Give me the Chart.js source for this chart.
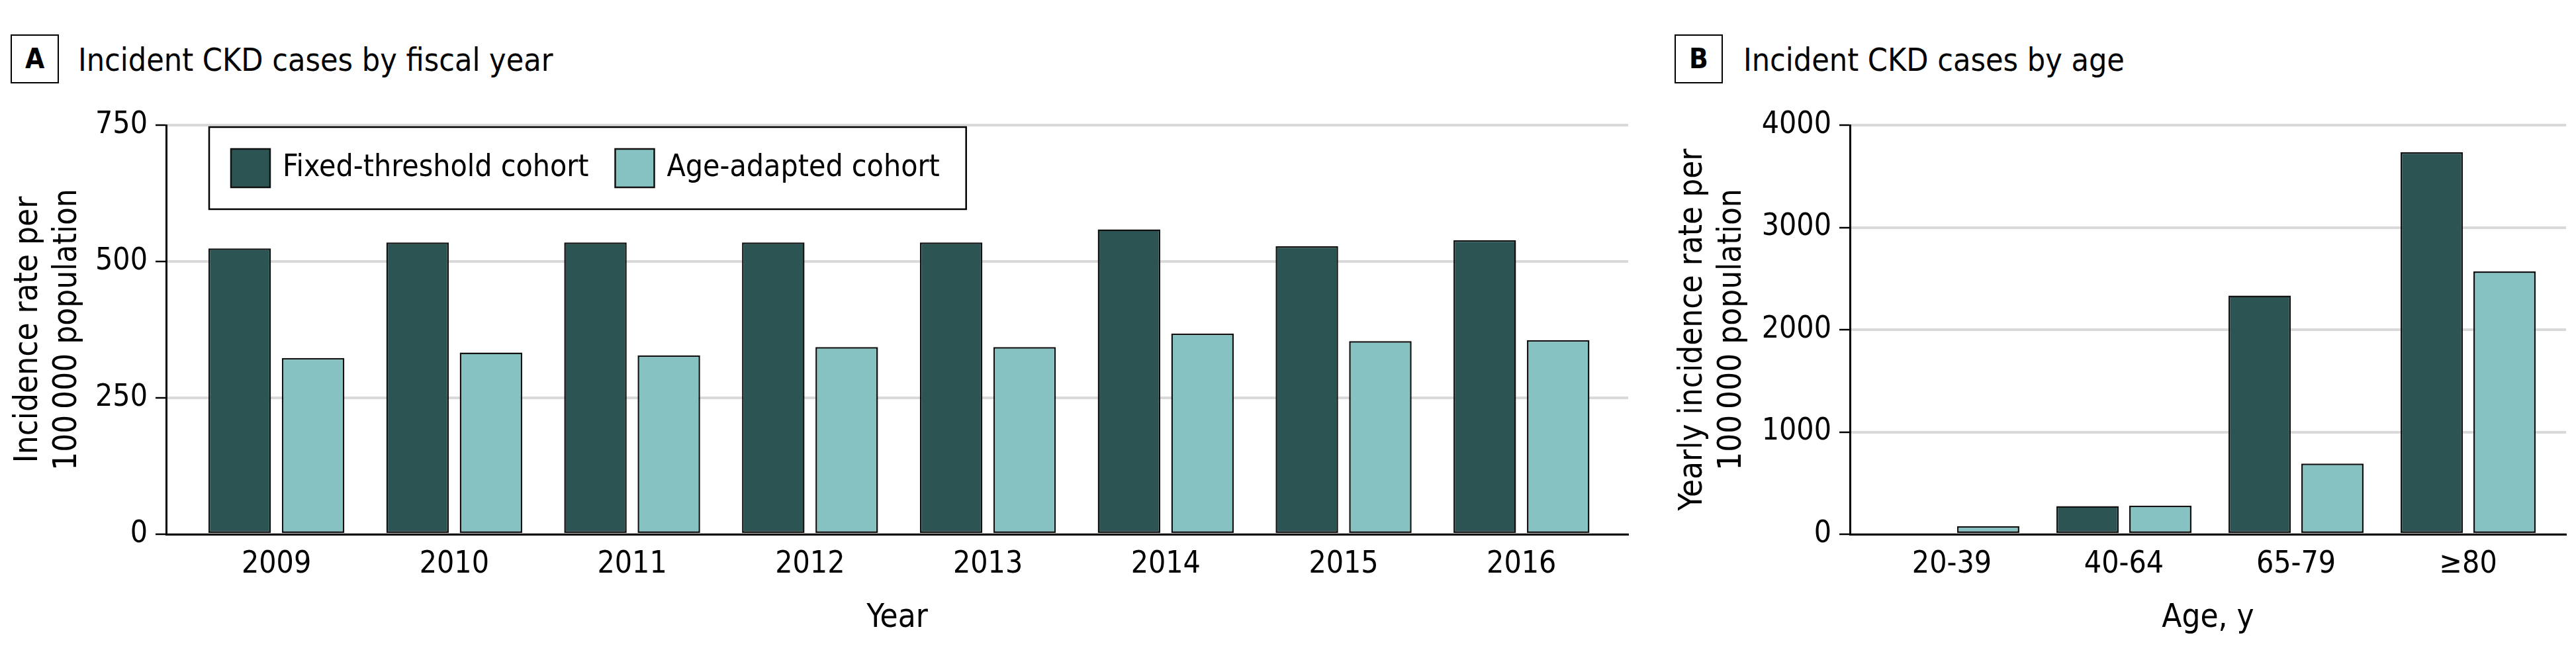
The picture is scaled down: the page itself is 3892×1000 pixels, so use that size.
<!DOCTYPE html>
<html>
<head>
<meta charset="utf-8">
<script src="https://cdn.jsdelivr.net/npm/chart.js@4/dist/chart.umd.min.js"></script>
<style>
  html, body { margin:0; padding:0; background:#fff; }
  body { width:3892px; height:1000px; position:relative; overflow:hidden;
         font-family:'DejaVu Sans Condensed','DejaVu Sans',sans-serif; color:#000; }
  .tag { position:absolute; top:52px; width:73px; height:74px; box-sizing:border-box;
         border:2.5px solid #000; display:flex; align-items:center; justify-content:center;
         font-weight:bold; font-size:42px; line-height:1; }
  .ttl { position:absolute; top:66px; font-size:48px; line-height:49px; white-space:nowrap; }
  canvas { position:absolute; top:0; }
</style>
</head>
<body>
<div class="tag" style="left:16px">A</div>
<div class="ttl" style="left:118px">Incident CKD cases by fiscal year</div>
<div class="tag" style="left:2530px">B</div>
<div class="ttl" style="left:2634px">Incident CKD cases by age</div>
<canvas id="chartA" width="2500" height="1000" style="left:0;width:2500px;height:1000px"></canvas>
<canvas id="chartB" width="1392" height="1000" style="left:2500px;width:1392px;height:1000px"></canvas>
<script>
// ---- data ----
const seriesNames = ['Fixed-threshold cohort', 'Age-adapted cohort'];
const years = ['2009', '2010', '2011', '2012', '2013', '2014', '2015', '2016'];
const fixedByYear = [524, 535, 535, 535, 535, 559, 528, 539];
const adaptedByYear = [323, 333, 328, 343, 343, 368, 354, 356];
const ageGroups = ['20-39', '40-64', '65-79', '\u226580'];
const fixedByAge = [0, 275, 2334, 3735];
const adaptedByAge = [80, 280, 691, 2570];
const yTicksA = [0, 250, 500, 750];
const yTicksB = [0, 1000, 2000, 3000, 4000];

// ---- style ----
const FONT = "'DejaVu Sans Condensed', 'DejaVu Sans', sans-serif";
const DARK = '#2b5453';
const LIGHT = '#86c2c1';
const EDGE = '#111111';
Chart.defaults.font.family = FONT;
Chart.defaults.color = '#000';

const boxLegend = {
  id: 'boxLegend',
  afterDatasetsDraw(chart, args, o) {
    if (!o || !o.show) return;
    const { ctx, chartArea } = chart;
    ctx.save();
    ctx.font = o.size + 'px ' + FONT;
    const items = chart.data.datasets.map(d => ({ label: d.label, fill: d.backgroundColor, w: ctx.measureText(d.label).width }));
    const x0 = chartArea.left + o.dx, y0 = chartArea.top + o.dy;
    let width = o.padL;
    items.forEach((it, i) => { width += o.sw + o.gap + it.w + (i < items.length - 1 ? o.itemGap : o.padR); });
    ctx.fillStyle = '#fff';
    ctx.fillRect(x0, y0, width, o.h);
    ctx.lineWidth = 2.5; ctx.strokeStyle = '#000';
    ctx.strokeRect(x0, y0, width, o.h);
    let x = x0 + o.padL;
    const cy = y0 + o.h / 2;
    items.forEach(it => {
      ctx.fillStyle = it.fill;
      ctx.fillRect(x, cy - o.sh / 2, o.sw, o.sh);
      ctx.lineWidth = 2.5; ctx.strokeStyle = EDGE;
      ctx.strokeRect(x, cy - o.sh / 2, o.sw, o.sh);
      ctx.fillStyle = '#000'; ctx.textBaseline = 'middle'; ctx.textAlign = 'left';
      ctx.fillText(it.label, x + o.sw + o.gap, cy);
      x += o.sw + o.gap + it.w + o.itemGap;
    });
    ctx.restore();
  }
};

function makeChart(id, cats, fixed, adapted, cfg) {
  const pts = arr => arr.map((v, i) => ({ x: i, y: v }));
  return new Chart(document.getElementById(id), {
    type: 'bar',
    plugins: [boxLegend],
    data: {
      datasets: [
        { label: seriesNames[0], data: pts(fixed), backgroundColor: DARK, borderColor: EDGE, borderWidth: 2.5, borderSkipped: false },
        { label: seriesNames[1], data: pts(adapted), backgroundColor: LIGHT, borderColor: EDGE, borderWidth: 2.5, borderSkipped: false }
      ]
    },
    options: {
      responsive: false,
      animation: false,
      devicePixelRatio: 1,
      categoryPercentage: cfg.cp,
      barPercentage: cfg.bp,
      layout: { padding: { top: 189, bottom: 0, left: 0, right: cfg.padR } },
      plugins: {
        legend: { display: false },
        tooltip: { enabled: false },
        boxLegend: cfg.legend
      },
      scales: {
        x: {
          type: 'linear',
          offset: false,
          min: cfg.xmin, max: cfg.xmax,
          afterBuildTicks: s => { s.ticks = cats.map((c, i) => ({ value: i })); },
          afterFit: s => { s.height = 193; s.paddingLeft = 0; s.paddingRight = 0; },
          grid: { display: false, drawTicks: false, offset: false },
          border: { display: true, color: '#000', width: 3 },
          ticks: { padding: 18, font: { size: 46, lineHeight: 1.2 }, color: '#000', maxRotation: 0, autoSkip: false,
                   callback: v => cats[v] },
          title: { display: true, text: cfg.xTitle, font: { size: 49, lineHeight: 1.2 }, color: '#000', padding: { top: 0, bottom: 36 } }
        },
        y: {
          min: 0, max: cfg.ymax,
          afterBuildTicks: s => { s.ticks = cfg.yticks.map(v => ({ value: v })); },
          afterFit: s => { s.width = cfg.yWidth; s.paddingTop = 0; s.paddingBottom = 0; },
          grid: { color: '#d9d9d9', lineWidth: 4, drawTicks: true, tickLength: 16, tickColor: '#000', tickWidth: 2.5 },
          border: { display: true, color: '#000', width: 3 },
          ticks: { padding: 12, font: { size: 46 }, color: '#000', callback: v => String(v) },
          title: { display: true, text: cfg.yTitle, font: { size: 49, lineHeight: 1.22 }, color: '#000', padding: { top: cfg.yTitlePad, bottom: 0 } }
        }
      }
    }
  });
}

makeChart('chartA', years, fixedByYear, adaptedByYear, {
  cp: 0.826, bp: 0.851, padR: 40, xmin: -0.62, xmax: 7.6, ymax: 750, yticks: yTicksA,
  yWidth: 251, yTitlePad: 13, xTitle: 'Year',
  yTitle: ['Incidence rate per', '100\u2009000 population'],
  legend: { show: true, size: 46, dx: 65, dy: 3, h: 124, padL: 33, sw: 59, sh: 58, gap: 19, itemGap: 40, padR: 40 }
});

makeChart('chartB', ageGroups, fixedByAge, adaptedByAge, {
  cp: 0.846, bp: 0.855, padR: 15, xmin: -0.592, xmax: 3.569, ymax: 4000, yticks: yTicksB,
  yWidth: 295, yTitlePad: 28, xTitle: 'Age, y',
  yTitle: ['Yearly incidence rate per', '100\u2009000 population'],
  legend: { show: false }
});
</script>
</body>
</html>
